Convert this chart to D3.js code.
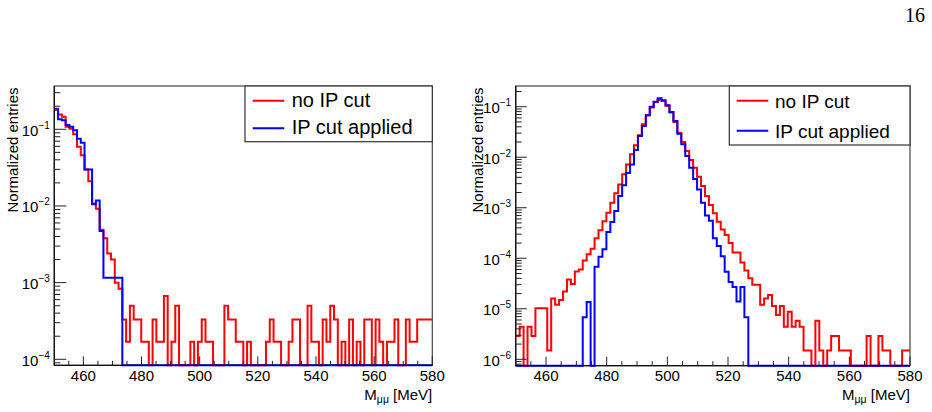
<!DOCTYPE html>
<html><head><meta charset="utf-8">
<script src="https://cdn.jsdelivr.net/npm/d3@7"></script>
<style>
body{margin:0;background:#fff}
svg{display:block;background:#fff}
text{font-family:"Liberation Sans",Arial,Helvetica,sans-serif;fill:#000}
</style>
</head><body>
<svg id="chart" width="932" height="412"></svg>
<script>
// ---------------- data ----------------
const binLow = 450;          // MeV, first bin edge
const binWidth = 1.3;        // MeV
const xRange = [450, 580];
const xTickLabels = [460, 480, 500, 520, 540, 560, 580];
const seriesNames = ["no IP cut", "IP cut applied"];
const seriesColors = ["#ff0000", "#0000ff"];

// Left panel
const leftYDomain = [8.35e-5, 0.367];
const leftYTicks = [1e-1, 1e-2, 1e-3, 1e-4];
const leftRed = [
  0.18, 0.156, 0.146, 0.108, 0.102, 0.086, 0.059, 0.046, 0.030, 0.021,
  0.0108, 0.0092, 0.0049, 0.0038, 0.0024, 0.0020, 0.0010, 0.00083, 3.3e-4, 1.7e-4,
  5.0e-4, 3.3e-4, 3.3e-4, 1.7e-4, 1.7e-4, 0, 3.3e-4, 1.7e-4, 1.7e-4, 6.7e-4,
  0, 1.7e-4, 5.0e-4, 0, 0, 0, 1.7e-4, 0, 1.7e-4, 3.3e-4,
  1.7e-4, 1.7e-4, 0, 0, 0, 5.0e-4, 3.3e-4, 3.3e-4, 1.7e-4, 1.7e-4,
  0, 1.7e-4, 0, 0, 0, 0, 1.7e-4, 3.3e-4, 1.7e-4, 1.7e-4,
  0, 0, 1.7e-4, 3.3e-4, 3.3e-4, 0, 0, 5.0e-4, 1.7e-4, 1.7e-4,
  0, 3.3e-4, 1.7e-4, 5.0e-4, 3.3e-4, 0, 1.7e-4, 0, 3.3e-4, 0,
  1.7e-4, 0, 3.3e-4, 3.3e-4, 0, 3.3e-4, 1.7e-4, 0, 1.7e-4, 1.7e-4,
  3.3e-4, 0, 0, 3.3e-4, 1.7e-4, 1.7e-4, 3.3e-4, 3.3e-4, 3.3e-4, 3.3e-4
];
const leftBlue = [
  0.185, 0.135, 0.131, 0.114, 0.108, 0.097, 0.075, 0.067, 0.030, 0.030,
  0.0105, 0.0118, 0.0047, 0.00116, 0.00116, 0.00116, 0.00116, 0.00116, 0, 0,
  0,0,0,0,0,0,0,0,0,0, 0,0,0,0,0,0,0,0,0,0,
  0,0,0,0,0,0,0,0,0,0, 0,0,0,0,0,0,0,0,0,0,
  0,0,0,0,0,0,0,0,0,0, 0,0,0,0,0,0,0,0,0,0,
  0,0,0,0,0,0,0,0,0,0, 0,0,0,0,0,0,0,0,0,0
];

// Right panel
const rightYDomain = [7.47e-7, 0.257];
const rightYTicks = [1e-1, 1e-2, 1e-3, 1e-4, 1e-5, 1e-6];
const rightRed = [
  2.9e-6, 4.4e-6, 0, 4.4e-6, 2.9e-6, 1.02e-5, 1.02e-5, 1.02e-5, 1.5e-6, 1.6e-5,
  1.2e-5, 1.5e-5, 2.2e-5, 3.8e-5, 3.1e-5, 5.5e-5, 6.0e-5, 9.0e-5, 1.2e-4, 1.55e-4,
  2.5e-4, 3.6e-4, 5.4e-4, 8.0e-4, 1.26e-3, 1.93e-3, 2.9e-3, 4.6e-3, 7.2e-3, 0.0114,
  0.0172, 0.0272, 0.045, 0.068, 0.097, 0.124, 0.136, 0.130, 0.104, 0.077,
  0.050, 0.0306, 0.020, 0.0133, 0.0088, 0.0062, 0.0041, 0.0027, 0.0017, 0.00113,
  7.8e-4, 5.3e-4, 3.7e-4, 2.9e-4, 2.0e-4, 1.3e-4, 1.3e-4, 8.2e-5, 5.7e-5, 4.0e-5,
  3.0e-5, 3.0e-5, 1.2e-5, 1.6e-5, 1.87e-5, 1.13e-5, 7.5e-6, 1.13e-5, 4.4e-6, 8.7e-6,
  4.4e-6, 5.8e-6, 4.4e-6, 1.5e-6, 1.5e-6, 0, 5.8e-6, 1.5e-6, 0, 1.5e-6,
  2.9e-6, 2.9e-6, 1.5e-6, 1.5e-6, 1.5e-6, 0, 0, 0, 0, 2.9e-6,
  0, 0, 2.9e-6, 1.5e-6, 1.5e-6, 0, 0, 0, 1.5e-6, 1.5e-6
];
const rightBlue = [
  0, 0, 0, 0, 0, 0, 0, 0, 0, 0,
  0, 0, 0, 0, 0, 0, 0, 6.8e-6, 1.36e-5, 0,
  6.8e-5, 1.07e-4, 1.5e-4, 3.3e-4, 5.2e-4, 8.6e-4, 1.7e-3, 2.8e-3, 4.9e-3, 7.2e-3,
  0.0139, 0.0263, 0.0415, 0.068, 0.100, 0.126, 0.147, 0.134, 0.107, 0.0785,
  0.052, 0.029, 0.018, 0.0106, 0.0062, 0.0037, 0.0023, 0.00126, 7.0e-4, 5.5e-4,
  2.5e-4, 1.75e-4, 1.1e-4, 5.4e-5, 3.4e-5, 2.7e-5, 1.4e-5, 2.7e-5, 6.8e-6, 0,
  0,0,0,0,0,0,0,0,0,0, 0,0,0,0,0,0,0,0,0,0,
  0,0,0,0,0,0,0,0,0,0, 0,0,0,0,0,0,0,0,0,0
];

// ---------------- layout ----------------
const svg = d3.select("#chart");

const panels = [
  {
    frame: {x0: 54.3, x1: 432.3, y0: 86, y1: 365.3},
    yDomain: leftYDomain, yTicks: leftYTicks,
    series: [leftRed, leftBlue],
    ytitleX: 18,
    legend: {x0: 245, x1: 432.3, y0: 86, y1: 141.7, lx0: 252.7, lx1: 284.3, tx: 291.7,
             rows: [100.7, 128.3], base: [107.3, 134.3], size: 20},
    yMajorLen: 12
  },
  {
    frame: {x0: 515.7, x1: 910, y0: 86, y1: 365.7},
    yDomain: rightYDomain, yTicks: rightYTicks,
    series: [rightRed, rightBlue],
    ytitleX: 483,
    legend: {x0: 729.3, x1: 910, y0: 86, y1: 145, lx0: 736.7, lx1: 768.3, tx: 775,
             rows: [100.7, 130.7], base: [107.8, 137.8], size: 19},
    yMajorLen: 11
  }
];

panels.forEach(p => {
  const f = p.frame;
  const x = d3.scaleLinear().domain(xRange).range([f.x0, f.x1]);
  const y = d3.scaleLog().domain(p.yDomain).range([f.y1, f.y0]);
  const g = svg.append("g");

  // frame
  g.append("rect").attr("x", f.x0).attr("y", f.y0)
    .attr("width", f.x1 - f.x0).attr("height", f.y1 - f.y0)
    .attr("fill", "#fff").attr("stroke", "#444").attr("stroke-width", 1.2);

  // histograms
  const line = d3.line()
    .x(d => x(d[0]))
    .y(d => y(Math.max(d[1], p.yDomain[0])));
  p.series.forEach((vals, si) => {
    const pts = [];
    vals.forEach((v, i) => {
      const e0 = binLow + i * binWidth, e1 = binLow + (i + 1) * binWidth;
      pts.push([e0, v]); pts.push([e1, v]);
    });
    g.append("path").attr("d", line(pts))
      .attr("fill", "none").attr("stroke", seriesColors[si])
      .attr("stroke-width", 2).attr("stroke-linejoin", "miter");
  });

  // axes lines
  g.append("line").attr("x1", f.x0).attr("x2", f.x0).attr("y1", f.y0).attr("y2", f.y1)
    .attr("stroke", "#111").attr("stroke-width", 1.3);
  g.append("line").attr("x1", f.x0).attr("x2", f.x1).attr("y1", f.y1).attr("y2", f.y1)
    .attr("stroke", "#111").attr("stroke-width", 1.3);

  // x ticks
  const xMinor = d3.range(455, 581, 5).filter(v => !xTickLabels.includes(v));
  g.selectAll(".xmin").data(xMinor).enter().append("line")
    .attr("x1", d => x(d)).attr("x2", d => x(d))
    .attr("y1", f.y1).attr("y2", f.y1 - 4.5)
    .attr("stroke", "#222").attr("stroke-width", 1);
  g.selectAll(".xmaj").data(xTickLabels).enter().append("line")
    .attr("x1", d => x(d)).attr("x2", d => x(d))
    .attr("y1", f.y1).attr("y2", f.y1 - 9)
    .attr("stroke", "#222").attr("stroke-width", 1);
  g.selectAll(".xlab").data(xTickLabels).enter().append("text")
    .attr("x", d => x(d)).attr("y", 380.5)
    .attr("text-anchor", "middle").attr("font-size", 15)
    .text(d => d);

  // y ticks (log)
  const lo = Math.floor(Math.log10(p.yDomain[0])), hi = Math.ceil(Math.log10(p.yDomain[1]));
  const yMinor = [];
  for (let d = lo; d <= hi; d++) for (let k = 2; k <= 9; k++) {
    const v = k * Math.pow(10, d);
    if (v >= p.yDomain[0] && v <= p.yDomain[1]) yMinor.push(v);
  }
  g.selectAll(".ymin").data(yMinor).enter().append("line")
    .attr("x1", f.x0).attr("x2", f.x0 + 6)
    .attr("y1", d => y(d)).attr("y2", d => y(d))
    .attr("stroke", "#222").attr("stroke-width", 1);
  g.selectAll(".ymaj").data(p.yTicks).enter().append("line")
    .attr("x1", f.x0).attr("x2", f.x0 + p.yMajorLen)
    .attr("y1", d => y(d)).attr("y2", d => y(d))
    .attr("stroke", "#222").attr("stroke-width", 1);
  const yl = g.selectAll(".ylab").data(p.yTicks).enter().append("text")
    .attr("x", f.x0 - 4.5).attr("y", d => y(d) + 6.5)
    .attr("text-anchor", "end").attr("font-size", 15);
  yl.append("tspan").text("10");
  yl.append("tspan").attr("dy", -7).attr("font-size", 10)
    .text(d => "\u2212" + Math.round(-Math.log10(d)));

  // y title
  g.append("text")
    .attr("transform", `translate(${p.ytitleX},87.5) rotate(-90)`)
    .attr("text-anchor", "end").attr("font-size", 15)
    .text("Normalized entries");

  // x title
  const xt = g.append("text").attr("x", f.x1).attr("y", 400)
    .attr("text-anchor", "end").attr("font-size", 15);
  xt.append("tspan").text("M");
  xt.append("tspan").attr("dy", 3).attr("font-size", 10.5).text("\u03bc\u03bc");
  xt.append("tspan").attr("dy", -3).text(" [MeV]");

  // legend
  const L = p.legend;
  g.append("rect").attr("x", L.x0).attr("y", L.y0)
    .attr("width", L.x1 - L.x0).attr("height", L.y1 - L.y0)
    .attr("fill", "#fff").attr("stroke", "#333").attr("stroke-width", 1.2);
  seriesNames.forEach((name, si) => {
    g.append("line").attr("x1", L.lx0).attr("x2", L.lx1)
      .attr("y1", L.rows[si]).attr("y2", L.rows[si])
      .attr("stroke", seriesColors[si]).attr("stroke-width", 2);
    g.append("text").attr("x", L.tx).attr("y", L.base[si])
      .attr("font-size", L.size).text(name);
  });
});

// page number
svg.append("text").attr("x", 925).attr("y", 21.7)
  .attr("text-anchor", "end").attr("font-size", 20)
  .style("font-family", "'Liberation Serif','DejaVu Serif',serif")
  .text("16");
</script>
</body></html>
